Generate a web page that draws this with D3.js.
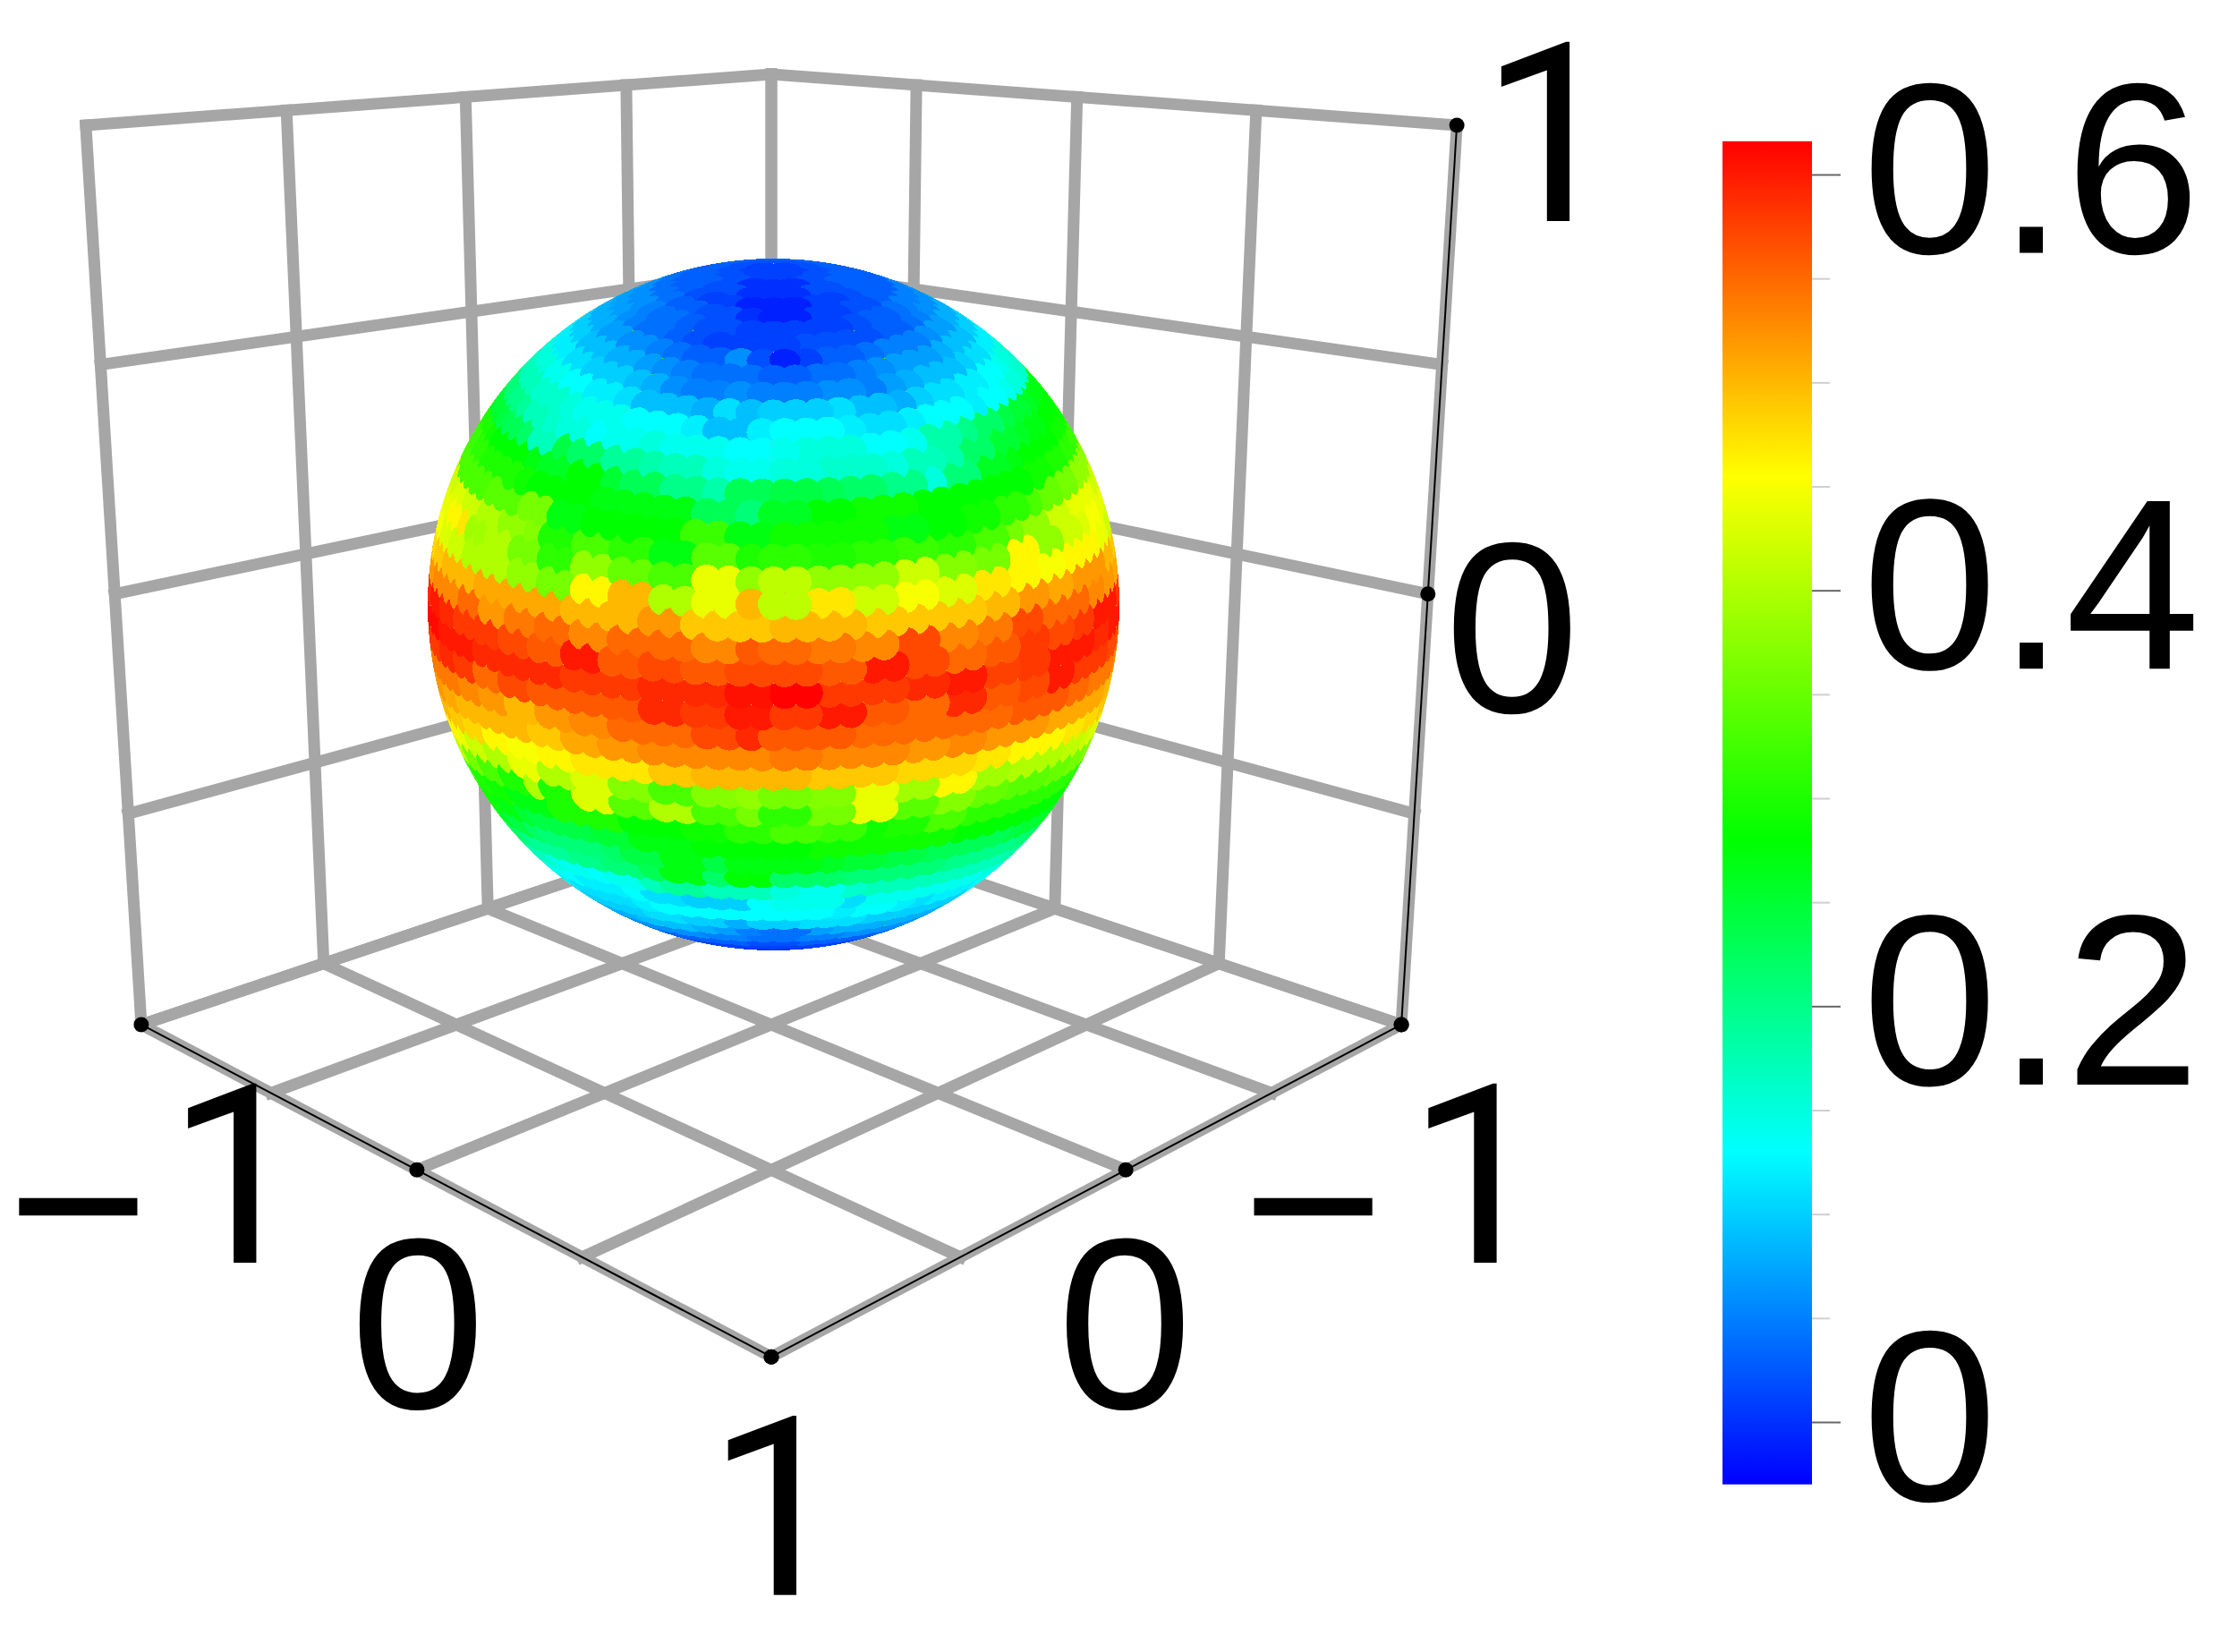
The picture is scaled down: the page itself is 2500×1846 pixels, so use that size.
<!DOCTYPE html>
<html>
<head>
<meta charset="utf-8">
<script src="https://cdn.jsdelivr.net/npm/d3@7"></script>
<style>
  html, body { margin: 0; padding: 0; background: #fff; }
  text { font-family: "Liberation Sans", Arial, sans-serif; fill: #000; }
</style>
</head>
<body>
<div id="chart"></div>
<script>
var gridValues = [-1, -0.5, 0, 0.5, 1];
var axisTickValues = [-1, 0, 1];
var colorbarLabels = [0, 0.2, 0.4, 0.6];
var colorbarMinor = [0.05, 0.1, 0.15, 0.25, 0.3, 0.35, 0.45, 0.5, 0.55];
var colorStops = [-0.03, 0.13, 0.28, 0.455, 0.616];
var colorNames = ["#0000ff", "#00ffff", "#00ff00", "#ffff00", "#ff0000"];

// ring latitudes, north to south
var ringLatitudes = [90, 86.25, 82.5, 78.75, 75, 71.25, 67.5, 63.75, 60, 56.25, 52.5, 48.75, 45,
  41.25, 37.5, 33.75, 30, 26.25, 22.5, 18.75, 15, 11.25, 7.5, 3.75, 0,
  -3.75, -7.5, -11.25, -15, -18.75, -22.5, -26.25, -30, -33.75, -37.5, -41.25, -45,
  -48.75, -52.5, -56.25, -60, -63.75, -67.5, -71.25, -75, -78.75, -82.5, -86.25, -90];

var ringValues = [
  [.01],
  [.01],
  [.02,.00,.00,.02],
  [.03,.02,.00,.00,.02,.03],
  [.03,.02,.01,-.01,-.01,.01,.02,.03],
  [.04,.03,.02,.00,-.01,.01,.02,.03],
  [.06,.05,.04,.03,.02,.01,.01,.01,.02,.03,.04,.05],
  [.07,.06,.05,.04,.03,.02,.01,.01,.01,.02,.02,.02,.03,.04,.05,.06],
  [.08,.08,.07,.07,.06,.06,.05,.04,.03,.03,.06,.02,-.01,.01,.03,.03,.04,.05,.05,.05,.06,.07,.07,.08],
  [.10,.10,.09,.09,.08,.08,.07,.06,.05,.04,.04,.04,.03,.04,.04,.05,.06,.07,.07,.07,.08,.09,.09,.10],
  [.12,.12,.11,.11,.10,.10,.09,.08,.06,.05,.06,.05,.05,.05,.06,.05,.07,.08,.09,.09,.10,.11,.11,.12],
  [.15,.15,.14,.13,.13,.12,.11,.09,.09,.08,.11,.09,.10,.10,.11,.09,.08,.10,.11,.12,.12,.13,.14,.15],
  [.17,.17,.16,.16,.15,.14,.14,.13,.13,.12,.09,.12,.13,.13,.12,.11,.12,.13,.13,.12,.13,.14,.15,.16],
  [.21,.20,.19,.17,.16,.15,.13,.14,.15,.14,.14,.13,.14,.15,.15,.13,.14,.18,.20,.22,.24,.25,.26,.27],
  [.25,.24,.23,.22,.17,.24,.22,.19,.18,.17,.15,.14,.15,.16,.16,.15,.17,.18,.22,.25,.26,.27,.28,.28],
  [.30,.29,.28,.28,.27,.26,.28,.25,.23,.20,.18,.23,.24,.23,.22,.20,.15,.21,.26,.27,.28,.28,.29,.29],
  [.32,.31,.30,.30,.29,.28,.28,.27,.27,.27,.23,.21,.26,.28,.29,.29,.28,.28,.28,.28,.29,.30,.31,.32],
  [.33,.33,.33,.34,.34,.36,.27,.28,.28,.28,.32,.27,.29,.29,.29,.27,.28,.29,.31,.33,.35,.36,.38,.38],
  [.42,.43,.42,.40,.38,.37,.30,.33,.31,.27,.34,.30,.31,.30,.31,.32,.31,.33,.36,.38,.42,.44,.44,.42],
  [.44,.46,.47,.39,.40,.36,.31,.38,.35,.33,.44,.38,.41,.38,.38,.42,.37,.36,.46,.38,.42,.43,.45,.44],
  [.45,.43,.42,.40,.40,.38,.36,.46,.50,.40,.44,.50,.41,.47,.42,.45,.43,.47,.46,.45,.46,.46,.44,.42],
  [.48,.49,.50,.50,.51,.51,.51,.50,.50,.52,.49,.49,.50,.50,.49,.49,.49,.50,.52,.51,.52,.52,.50,.49],
  [.52,.53,.53,.55,.52,.54,.55,.53,.55,.55,.53,.56,.55,.54,.53,.57,.53,.54,.57,.55,.55,.53,.52,.51],
  [.59,.60,.59,.58,.58,.57,.56,.60,.56,.57,.56,.57,.57,.56,.60,.57,.55,.56,.58,.57,.58,.60,.60,.58],
  [.61,.61,.60,.60,.59,.59,.59,.58,.58,.59,.59,.605,.615,.58,.58,.59,.60,.575,.58,.60,.60,.59,.60,.60],
  [.58,.58,.59,.58,.55,.57,.56,.56,.56,.59,.58,.60,.58,.60,.56,.55,.59,.56,.57,.60,.58,.58,.57,.56],
  [.54,.54,.54,.53,.52,.50,.52,.53,.55,.55,.57,.59,.56,.56,.55,.55,.55,.55,.56,.56,.55,.54,.54,.53],
  [.52,.52,.51,.50,.50,.50,.49,.51,.52,.53,.53,.53,.54,.53,.53,.52,.53,.52,.52,.51,.51,.51,.50,.50],
  [.50,.50,.49,.48,.46,.45,.46,.47,.47,.49,.50,.50,.50,.49,.49,.48,.48,.47,.46,.46,.47,.48,.49,.49],
  [.47,.46,.44,.42,.40,.44,.40,.43,.37,.33,.37,.38,.36,.37,.44,.39,.46,.39,.40,.40,.41,.42,.43,.44],
  [.42,.41,.36,.33,.30,.40,.30,.43,.34,.40,.33,.36,.31,.36,.44,.34,.37,.35,.34,.34,.35,.36,.37,.38],
  [.33,.32,.30,.29,.27,.27,.30,.30,.28,.28,.29,.31,.33,.32,.29,.30,.33,.31,.31,.31,.31,.31,.31,.31],
  [.31,.30,.29,.27,.25,.24,.24,.25,.27,.27,.28,.28,.28,.29,.29,.29,.29,.28,.28,.28,.28,.28,.29,.30],
  [.29,.28,.26,.24,.22,.21,.21,.22,.24,.27,.24,.27,.27,.26,.25,.24,.23,.23,.23,.24,.25,.26,.27,.28],
  [.24,.23,.22,.20,.19,.19,.20,.21,.23,.27,.22,.28,.22,.22,.21,.21,.21,.20,.20,.20,.21,.22,.23,.24],
  [.21,.20,.19,.17,.15,.14,.13,.14,.17,.19,.17,.17,.15,.14,.16,.17,.17,.17,.17,.17,.18,.19,.20,.21],
  [.18,.17,.15,.14,.13,.12,.12,.13,.11,.10,.10,.13,.14,.14,.11,.14,.14,.14,.14,.14,.15,.16,.17,.18],
  [.15,.14,.13,.12,.11,.11,.11,.12,.13,.13,.13,.13,.13,.13,.12,.13,.12,.11,.12,.12,.13,.13,.14,.15],
  [.12,.11,.11,.10,.10,.10,.10,.11,.11,.10,.08,.10,.10,.11,.11,.10,.10,.10,.10,.10,.11,.11,.12,.12],
  [.10,.09,.09,.08,.08,.08,.09,.09,.09,.08,.07,.05,.04,.07,.08,.08,.08,.08,.08,.08,.09,.09,.09,.10],
  [.07,.07,.06,.06,.06,.06,.06,.06,.06,.05,.05,.04,.04,.05,.05,.06,.06,.06,.06,.06,.06,.06,.07,.07],
  [.04,.04,.04,.04,.03,.03,.03,.02,.02,.03,.03,.03,.04,.03,.03,.03],
  [.02,.02,.02,.02,.01,.01,.01,.01,.02,.02,.02,.02],
  [.01,.01,.01,.00,.00,.01,.01,.01],
  [.00,.00,.00,.00,.00,.00],
  [.00,.00,.00,.00],
  [.00],
  [.00],
  [.00]
];

var width = 2500, height = 1846;

var color = d3.scaleLinear().domain(colorStops).range(colorNames);

var svg = d3.select("#chart").append("svg")
    .attr("width", width)
    .attr("height", height)
    .style("display", "block");

// perspective box, camera fitted to the corners of the cube
function project(x, y, z) {
  var s = x + y,
      w = 1 - 0.1159 * s - 0.0422 * z;
  return [862 + 366.9 * (x - y) / w, (663.7 + 17.7 * s - 529.6 * z) / w];
}

var line = d3.line();

function segment(a, b) {
  return line([project(a[0], a[1], a[2]), project(b[0], b[1], b[2])]);
}

// back walls and floor
var gridSegments = [];
gridValues.forEach(function(v) {
  gridSegments.push([[v, -1, -1], [v, 1, -1]]);
  gridSegments.push([[-1, v, -1], [1, v, -1]]);
  gridSegments.push([[-1, v, -1], [-1, v, 1]]);
  gridSegments.push([[-1, -1, v], [-1, 1, v]]);
  gridSegments.push([[v, -1, -1], [v, -1, 1]]);
  gridSegments.push([[-1, -1, v], [1, -1, v]]);
});

svg.append("g").selectAll("path")
    .data(gridSegments)
  .enter().append("path")
    .attr("d", function(d) { return segment(d[0], d[1]); })
    .attr("fill", "none")
    .attr("stroke", "#a6a6a6")
    .attr("stroke-width", 13)
    .attr("stroke-linecap", "square");

// axis edges
var axisEdges = [
  [[-1, 1, -1], [1, 1, -1]],
  [[1, -1, -1], [1, 1, -1]],
  [[1, -1, -1], [1, -1, 1]]
];

svg.append("g").selectAll("path")
    .data(axisEdges)
  .enter().append("path")
    .attr("d", function(d) { return segment(d[0], d[1]); })
    .attr("fill", "none")
    .attr("stroke", "#000")
    .attr("stroke-width", 2);

var tickPoints = [];
axisTickValues.forEach(function(v) {
  tickPoints.push(project(v, 1, -1));
  tickPoints.push(project(1, v, -1));
  tickPoints.push(project(1, -1, v));
});

svg.append("g").selectAll("circle")
    .data(tickPoints)
  .enter().append("circle")
    .attr("cx", function(d) { return d[0]; })
    .attr("cy", function(d) { return d[1]; })
    .attr("r", 8.5)
    .attr("fill", "#000");

// sphere of small surface discs
var viewCentre = [0, 15];

var globe = d3.geoOrthographic()
    .rotate([-viewCentre[0], -viewCentre[1], 0])
    .scale(386.5)
    .translate([864.5, 675.5])
    .clipAngle(90);

var geoPath = d3.geoPath(globe);

var dots = [];
ringLatitudes.forEach(function(lat, r) {
  var row = ringValues[r],
      n = Math.max(1, Math.round(96 * Math.cos(lat * Math.PI / 180)));
  d3.range(n).forEach(function(k) {
    var lon = (k + 0.5) * 360 / n - 180,
        i = Math.floor((lon + 90) / 180 * row.length);
    i = Math.max(0, Math.min(row.length - 1, i));
    dots.push({
      lon: lon,
      lat: lat,
      value: row[i],
      dist: d3.geoDistance([lon, lat], viewCentre)
    });
  });
});

var visible = dots
    .filter(function(d) { return d.dist < Math.PI / 2 + 0.05; })
    .sort(function(a, b) { return b.dist - a.dist; });

var disc = d3.geoCircle().radius(2.6).precision(15);

svg.append("path")
    .datum({type: "Sphere"})
    .attr("d", geoPath)
    .attr("fill", "#c9c83a");

svg.append("g")
    .attr("shape-rendering", "crispEdges")
  .selectAll("path")
    .data(visible)
  .enter().append("path")
    .attr("d", function(d) { return geoPath(disc.center([d.lon, d.lat])()); })
    .attr("fill", function(d) { return color(d.value); });

// axis numbers, the ones in Roboto because Liberation's 1 has a foot
var fontSize = 272, oneSize = 280, minusDrop = 28;
var axisLabels = [
  {text: "1", at: [1, -1, 1], dx: 105, dy: 107},
  {text: "0", at: [1, -1, 0], dx: 94, dy: 132},
  {text: "\u22121", at: [-1, 1, -1], dx: -150, dy: 266, gap: 20},
  {text: "0", at: [0, 1, -1], dx: 1, dy: 266},
  {text: "1", at: [1, 1, -1], dx: 7, dy: 266},
  {text: "0", at: [1, 0, -1], dx: -1, dy: 266},
  {text: "\u22121", at: [1, -1, -1], dx: -178, dy: 266, gap: 26}
];

var labelGroup = svg.append("g");

axisLabels.forEach(function(d) {
  var p = project(d.at[0], d.at[1], d.at[2]),
      hasMinus = d.text.charAt(0) === "\u2212",
      digit = d.text.charAt(d.text.length - 1);
  var t = labelGroup.append("text")
      .attr("x", p[0] + d.dx)
      .attr("y", p[1] + d.dy)
      .attr("text-anchor", hasMinus ? "start" : "middle");
  if (hasMinus) t.append("tspan").attr("dy", minusDrop).attr("font-size", fontSize).text("\u2212");
  t.append("tspan")
      .attr("dx", hasMinus ? d.gap : 0)
      .attr("dy", hasMinus ? -minusDrop : 0)
      .attr("font-size", digit === "1" ? oneSize : fontSize)
      .style("font-family", digit === "1" ? "Roboto" : null)
      .text(digit);
});

// colour bar
var barY = d3.scaleLinear().domain([0, 0.6]).range([1589, 195]);
var barLeft = 1925, barRight = 2025;

var gradient = svg.append("defs").append("linearGradient")
    .attr("id", "rainbow")
    .attr("x1", 0).attr("y1", 1).attr("x2", 0).attr("y2", 0);

gradient.selectAll("stop")
    .data(colorStops)
  .enter().append("stop")
    .attr("offset", function(d) { return (d - colorStops[0]) / (colorStops[4] - colorStops[0]); })
    .attr("stop-color", function(d, i) { return colorNames[i]; });

svg.append("rect")
    .attr("x", barLeft)
    .attr("y", barY(colorStops[4]))
    .attr("width", barRight - barLeft)
    .attr("height", barY(colorStops[0]) - barY(colorStops[4]))
    .attr("fill", "url(#rainbow)");

var minorAxis = svg.append("g")
    .attr("transform", "translate(" + barRight + ",0)")
    .call(d3.axisRight(barY).tickValues(colorbarMinor).tickSize(20).tickFormat(""));
minorAxis.select(".domain").remove();
minorAxis.selectAll("line").attr("stroke", "#cfcfcf").attr("stroke-width", 2);

var majorAxis = svg.append("g")
    .attr("transform", "translate(" + barRight + ",0)")
    .call(d3.axisRight(barY)
      .tickValues(colorbarLabels)
      .tickSize(32)
      .tickPadding(24)
      .tickFormat(function(d) { return d === 0 ? "0" : d3.format(".1f")(d); }));
majorAxis.select(".domain").remove();
majorAxis.selectAll("line").attr("stroke", "#666").attr("stroke-width", 2);
majorAxis.selectAll("text")
    .attr("font-size", fontSize)
    .attr("font-family", '"Liberation Sans", Arial, sans-serif')
    .attr("fill", "#000");
</script>
</body>
</html>
